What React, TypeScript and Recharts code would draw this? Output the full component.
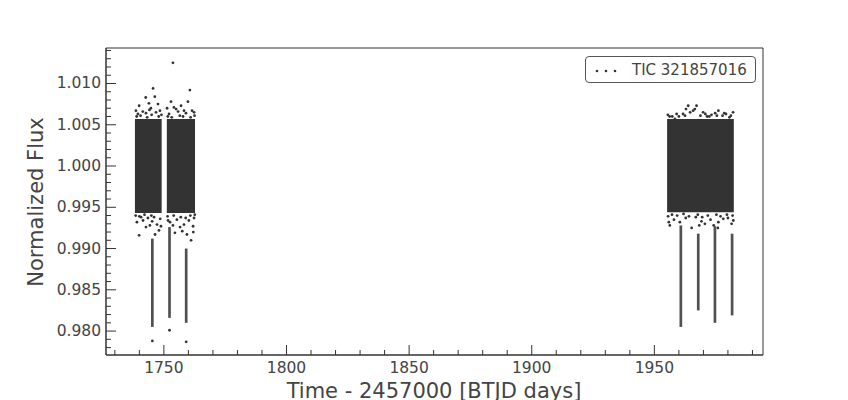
import React from 'react';
import {
  ScatterChart, Scatter, XAxis, YAxis, ReferenceArea,
} from 'recharts';

// TESS light curve, sectors 16 and 24 (BTJD)
const xDomain = [1726.4, 1994.3];
const yDomain = [0.9771, 1.0143];
const xTicks = [1730, 1740, 1750, 1760, 1770, 1780, 1790, 1800, 1810, 1820, 1830, 1840, 1850, 1860, 1870,
  1880, 1890, 1900, 1910, 1920, 1930, 1940, 1950, 1960, 1970, 1980, 1990];
const yTicks = [0.978, 0.979, 0.98, 0.981, 0.982, 0.983, 0.984, 0.985, 0.986, 0.987, 0.988, 0.989, 0.99,
  0.991, 0.992, 0.993, 0.994, 0.995, 0.996, 0.997, 0.998, 0.999, 1.0, 1.001, 1.002, 1.003, 1.004, 1.005,
  1.006, 1.007, 1.008, 1.009, 1.01, 1.011, 1.012, 1.013, 1.014];

// dense out-of-transit flux (too many cadences to plot one by one): [start, end, low, high]
const coreBands = [
  [1738.2, 1749.1, 0.9943, 1.0057],
  [1751.2, 1762.7, 0.9943, 1.0057],
  [1955.2, 1982.4, 0.9944, 1.0057],
];

// in-transit cadences: [mid time, lowest, highest]
const transits = [
  [1745.3, 0.9805, 0.9912],
  [1752.3, 0.9816, 0.9926],
  [1759.1, 0.981, 0.99],
  [1960.8, 0.9805, 0.9928],
  [1967.9, 0.9825, 0.9918],
  [1974.7, 0.981, 0.9927],
  [1981.7, 0.9819, 0.9918],
];

// scattered cadences at the edges: [time, flux]
const s16Upper = [
  [1745.6, 1.0094], [1742.6, 1.0083], [1746.3, 1.0084], [1739.9, 1.0073], [1743.9, 1.0076], [1747.6, 1.0075],
  [1741.4, 1.0066], [1738.6, 1.0067], [1744.7, 1.007], [1748.4, 1.0067], [1742.7, 1.0064], [1746.8, 1.0065],
  [1739.4, 1.0063], [1753.7, 1.0125], [1760.6, 1.0092], [1752.9, 1.0078], [1757.0, 1.0073], [1759.8, 1.0078],
  [1754.1, 1.0071], [1761.5, 1.0067], [1751.3, 1.007], [1758.2, 1.0067], [1755.8, 1.0066], [1762.3, 1.0065],
  [1752.1, 1.0063], [1759.0, 1.0064], [1738.9, 1.006], [1740.5, 1.0061], [1743.2, 1.0059], [1745.0, 1.0062],
  [1747.9, 1.006], [1749.0, 1.0062], [1751.6, 1.006], [1753.2, 1.0059], [1756.5, 1.0061], [1757.8, 1.006],
  [1760.9, 1.0059], [1762.5, 1.0061], [1744.1, 1.0068], [1755.0, 1.0069],
];
const s16Lower = [
  [1739.9, 0.9916], [1742.7, 0.9926], [1744.3, 0.9928], [1746.4, 0.9917], [1748.0, 0.9922], [1739.0, 0.9932],
  [1741.5, 0.9934], [1745.2, 0.9933], [1747.2, 0.9929], [1748.8, 0.9927], [1740.7, 0.9938], [1743.5, 0.9937],
  [1754.5, 0.9919], [1756.6, 0.9926], [1759.4, 0.9917], [1761.1, 0.991], [1752.5, 0.9932], [1758.2, 0.9929],
  [1761.9, 0.9927], [1751.7, 0.9934], [1755.3, 0.9935], [1760.2, 0.9934], [1762.3, 0.9937], [1753.7, 0.9928],
  [1738.5, 0.994], [1740.0, 0.9939], [1742.1, 0.9941], [1744.9, 0.994], [1746.0, 0.9938], [1748.5, 0.9936],
  [1751.5, 0.9939], [1754.0, 0.994], [1756.9, 0.9938], [1758.9, 0.9937], [1760.8, 0.994], [1762.6, 0.9941],
  [1762.0, 0.992], [1757.5, 0.9921],
  [1745.3, 0.9788], [1759.1, 0.9787], [1752.3, 0.9801],
];
const s24Upper = [
  [1963.8, 1.0073], [1967.2, 1.0073], [1965.8, 1.0067], [1961.7, 1.0063], [1969.9, 1.0065], [1976.1, 1.0067],
  [1982.1, 1.0065], [1973.3, 1.0062], [1979.2, 1.0063], [1958.4, 1.0057], [1956.2, 1.006], [1971.5, 1.006],
  [1977.8, 1.0061], [1960.0, 1.006], [1974.8, 1.0064], [1980.6, 1.0059], [1955.5, 1.0062], [1957.3, 1.006],
  [1959.1, 1.0063], [1962.5, 1.0061], [1964.6, 1.0065], [1968.8, 1.0061], [1970.8, 1.0063], [1972.4, 1.006],
  [1975.5, 1.0061], [1978.5, 1.0064], [1981.2, 1.0061], [1966.5, 1.0069], [1962.9, 1.0069],
];
const s24Lower = [
  [1956.3, 0.9928], [1965.2, 0.9925], [1968.3, 0.9928], [1970.6, 0.993], [1976.1, 0.9932], [1981.5, 0.993],
  [1960.4, 0.9932], [1978.1, 0.9936], [1958.0, 0.9935], [1962.8, 0.9937], [1972.9, 0.9935], [1974.2, 0.9928],
  [1980.0, 0.9937], [1966.9, 0.9938], [1982.2, 0.9934], [1955.6, 0.9939], [1957.2, 0.9941], [1959.3, 0.994],
  [1961.9, 0.9942], [1964.1, 0.9939], [1967.7, 0.9941], [1969.5, 0.9938], [1971.8, 0.994], [1975.3, 0.9941],
  [1977.0, 0.9939], [1979.6, 0.9941], [1981.9, 0.994], [1955.9, 0.9932], [1969.2, 0.9933], [1975.9, 0.9925],
];

const INK = '#333333';
const TEXT = '#444444';
const FONT = '"DejaVu Sans", sans-serif';

const toPoints = (rows: number[][]) => rows.map(([time, flux]) => ({ time, flux }));
const points = toPoints([...s16Upper, ...s16Lower, ...s24Upper, ...s24Lower]);

const Dot = (p: any) => <circle cx={p.cx} cy={p.cy} r={1.4} fill={INK} />;

const XTick = ({ x, y, payload }: any) => {
  const major = payload.value % 50 === 0;
  return (
    <g>
      <line x1={x} x2={x} y1={y} y2={y - (major ? 10 : 5)} stroke={INK} strokeWidth={1} />
      {major && (
        <text x={x} y={y + 18} textAnchor="middle" fontSize={15.5} fill={TEXT} fontFamily={FONT}>{payload.value}</text>
      )}
    </g>
  );
};

const YTick = ({ x, y, payload }: any) => {
  const major = Math.round(payload.value * 1000) % 5 === 0;
  return (
    <g>
      <line x1={x} x2={x + (major ? 10 : 5)} y1={y} y2={y} stroke={INK} strokeWidth={1} />
      {major && (
        <text x={x - 5} y={y + 5} textAnchor="end" fontSize={15.5} fill={TEXT} fontFamily={FONT}>{payload.value.toFixed(3)}</text>
      )}
    </g>
  );
};

export default function App() {
  return (
    <div style={{ position: 'absolute', left: 0, top: 0, width: 848, height: 400, background: '#fff', overflow: 'hidden' }}>
      <ScatterChart width={848} height={400} margin={{ top: 48, right: 85, bottom: 0, left: 0 }}>
        <XAxis xAxisId="b" dataKey="time" type="number" domain={xDomain} ticks={xTicks} interval={0}
          allowDataOverflow height={45} tickSize={0} tickMargin={0} tick={<XTick />} axisLine={{ stroke: INK }} />
        <YAxis yAxisId="l" dataKey="flux" type="number" domain={yDomain} ticks={yTicks} interval={0}
          allowDataOverflow width={106} tickSize={0} tickMargin={0} tick={<YTick />} axisLine={{ stroke: INK }} />
        {coreBands.map(([x1, x2, y1, y2], i) => (
          <ReferenceArea key={`c${i}`} xAxisId="b" yAxisId="l" x1={x1} x2={x2} y1={y1} y2={y2}
            fill={INK} fillOpacity={1} stroke="none" />
        ))}
        {transits.map(([t, lo, hi], i) => (
          <ReferenceArea key={`t${i}`} xAxisId="b" yAxisId="l" x1={t - 0.55} x2={t + 0.55} y1={lo} y2={hi}
            fill={INK} fillOpacity={0.85} stroke="none" />
        ))}
        <ReferenceArea xAxisId="b" yAxisId="l" x1={xDomain[0]} x2={xDomain[1]} y1={yDomain[0]} y2={yDomain[1]}
          fill="none" stroke={INK} strokeWidth={1} ifOverflow="visible" />
        <Scatter xAxisId="b" yAxisId="l" data={points} shape={Dot} isAnimationActive={false} />
      </ScatterChart>

      <div style={{ position: 'absolute', left: 36, top: 202, transform: 'translate(-50%, -50%) rotate(-90deg)',
        whiteSpace: 'nowrap', fontFamily: FONT, fontSize: 21, color: TEXT }}>
        Normalized Flux
      </div>
      <div style={{ position: 'absolute', left: 434, top: 379, transform: 'translateX(-50%)', whiteSpace: 'nowrap',
        fontFamily: FONT, fontSize: 21, color: TEXT, lineHeight: '24px' }}>
        Time - 2457000 [BTJD days]
      </div>

      <div style={{ position: 'absolute', left: 585, top: 56, width: 171, height: 27, border: '1px solid #555',
        borderRadius: 4, background: '#fff', boxSizing: 'border-box', display: 'flex', alignItems: 'center',
        fontFamily: FONT, fontSize: 15, color: TEXT }}>
        <svg width={40} height={24} style={{ display: 'block' }}>
          {[11, 20, 29].map((cx) => <circle key={cx} cx={cx} cy={13} r={1.3} fill={INK} />)}
        </svg>
        <span style={{ marginLeft: 6 }}>TIC 321857016</span>
      </div>
    </div>
  );
}
